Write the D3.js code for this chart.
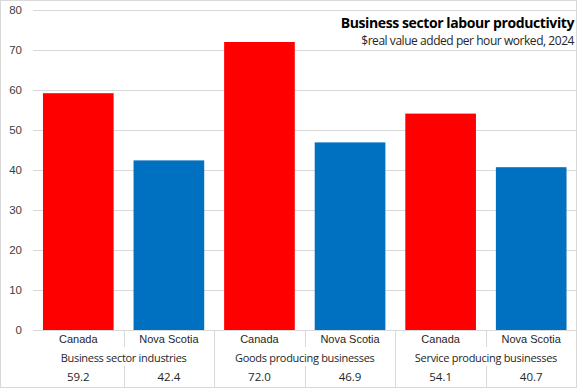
<!DOCTYPE html>
<html>
<head>
<meta charset="utf-8">
<script src="https://cdn.jsdelivr.net/npm/d3@7"></script>
<style>
  body { margin: 0; background: #fff; }
  svg { display: block; }
</style>
</head>
<body>
<svg id="chart"></svg>
<script>
// data
var groups = ["Business sector industries", "Goods producing businesses", "Service producing businesses"];
var regions = ["Canada", "Nova Scotia"];
var canadaValues = [59.2, 72.0, 54.1];
var novaScotiaValues = [42.4, 46.9, 40.7];
var yTicks = [0, 10, 20, 30, 40, 50, 60, 70, 80];

var colors = { "Canada": "#ff0000", "Nova Scotia": "#0070c0" };

var width = 579, height = 389;

// flatten into bars
var bars = [];
groups.forEach(function (g, i) {
  bars.push({ key: g + "|Canada", group: g, region: "Canada", value: canadaValues[i] });
  bars.push({ key: g + "|Nova Scotia", group: g, region: "Nova Scotia", value: novaScotiaValues[i] });
});

var svg = d3.select("#chart")
  .attr("width", width)
  .attr("height", height);

// outer border
svg.append("rect")
  .attr("x", 0.5).attr("y", 0.5)
  .attr("width", width - 3).attr("height", height - 2)
  .attr("fill", "#fff")
  .attr("stroke", "#d9d9d9");

var x = d3.scaleBand()
  .domain(bars.map(function (d) { return d.key; }))
  .range([33, 576.5])
  .paddingInner(0.22)
  .paddingOuter(0.11);

var y = d3.scaleLinear()
  .domain([0, 80])
  .range([330, 10]);

// gridlines
svg.append("g")
  .selectAll("line")
  .data(yTicks)
  .enter().append("line")
  .attr("x1", 33).attr("x2", 576.5)
  .attr("y1", function (d) { return Math.round(y(d)) + 0.5; })
  .attr("y2", function (d) { return Math.round(y(d)) + 0.5; })
  .attr("stroke", "#d9d9d9");

// y tick labels
svg.append("g")
  .selectAll("text")
  .data(yTicks)
  .enter().append("text")
  .attr("x", 22)
  .attr("y", function (d) { return y(d) + 4; })
  .attr("text-anchor", "end")
  .style("font", "11.5px 'Liberation Sans', Arial, sans-serif")
  .style("fill", "#404040")
  .text(function (d) { return d; });

// bars
svg.append("g")
  .selectAll("rect")
  .data(bars)
  .enter().append("rect")
  .attr("x", function (d) { return x(d.key); })
  .attr("y", function (d) { return y(d.value); })
  .attr("width", x.bandwidth())
  .attr("height", function (d) { return y(0) - y(d.value); })
  .attr("fill", function (d) { return colors[d.region]; });

// category table below axis
var step = x.step();
var left = 33;
var table = svg.append("g");

// separators between bars
d3.range(1, bars.length).forEach(function (i) {
  var sx = Math.round(left + i * step) + 0.5;
  var betweenGroups = i % regions.length === 0;
  if (betweenGroups) {
    table.append("line")
      .attr("x1", sx).attr("x2", sx).attr("y1", 330).attr("y2", 387)
      .attr("stroke", "#d9d9d9");
  } else {
    table.append("line")
      .attr("x1", sx).attr("x2", sx).attr("y1", 330).attr("y2", 347)
      .attr("stroke", "#d9d9d9");
    table.append("line")
      .attr("x1", sx).attr("x2", sx).attr("y1", 366).attr("y2", 387)
      .attr("stroke", "#d9d9d9");
  }
});

table.selectAll(".region")
  .data(bars)
  .enter().append("text")
  .attr("class", "region")
  .attr("x", function (d) { return x(d.key) + x.bandwidth() / 2; })
  .attr("y", 343)
  .attr("text-anchor", "middle")
  .style("font", "11px 'Liberation Sans', Arial, sans-serif")
  .style("fill", "#262626")
  .text(function (d) { return d.region; });

table.selectAll(".group")
  .data(groups)
  .enter().append("text")
  .attr("class", "group")
  .attr("x", function (d, i) { return left + (i * 2 + 1) * step; })
  .attr("y", 362)
  .attr("text-anchor", "middle")
  .style("font", "11px 'Open Sans', sans-serif")
  .style("letter-spacing", "-0.3px")
  .style("fill", "#262626")
  .text(function (d) { return d; });

table.selectAll(".val")
  .data(bars)
  .enter().append("text")
  .attr("class", "val")
  .attr("x", function (d) { return x(d.key) + x.bandwidth() / 2; })
  .attr("y", 381)
  .attr("text-anchor", "middle")
  .style("font", "11.5px 'Open Sans', sans-serif")
  .style("fill", "#262626")
  .text(function (d) { return d.value.toFixed(1); });

// title
svg.append("rect")
  .attr("x", 336).attr("y", 12).attr("width", 240).attr("height", 36)
  .attr("fill", "#fff");

svg.append("text")
  .attr("x", 574).attr("y", 28)
  .attr("text-anchor", "end")
  .style("font", "bold 14px 'Open Sans', sans-serif")
  .style("letter-spacing", "-0.4px")
  .style("fill", "#000")
  .text("Business sector labour productivity");

svg.append("text")
  .attr("x", 574).attr("y", 45)
  .attr("text-anchor", "end")
  .style("font", "12px 'Open Sans', sans-serif")
  .style("letter-spacing", "-0.45px")
  .style("fill", "#262626")
  .text("$real value added per hour worked, 2024");
</script>
</body>
</html>
